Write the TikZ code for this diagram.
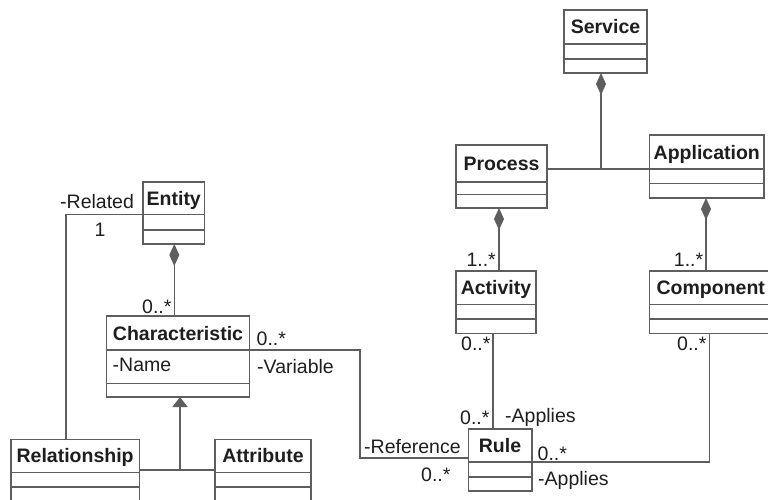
\documentclass[tikz,border=0pt]{standalone}
\usepackage{fontspec}
\setmainfont{Liberation Sans}
\usetikzlibrary{arrows.meta,calc}
\definecolor{umlline}{HTML}{5E5E5E}
\definecolor{umltext}{HTML}{1E1E1E}
\newcommand{\umlfont}{\fontsize{19.5}{23}\selectfont}
\tikzset{
  classbox/.style={draw=umlline, line width=1.6pt, inner sep=0pt, outer sep=0pt},
  divider/.style={draw=umlline, line width=1.6pt},
  edge/.style={draw=umlline, line width=1.6pt},
  classname/.style={font=\umlfont\bfseries, text=umltext, inner sep=0pt, anchor=base},
  lbl/.style={font=\umlfont, text=umltext, inner sep=0pt, anchor=base west},
  owner/.style={{Diamond[length=22pt,width=10pt]}-},
  isa/.style={-{Triangle[length=10pt,width=15pt]}},
}
% class box: name, x1, y1, x2, y2, first divider, second divider, title
\newcommand{\umlclass}[8]{%
  \node[classbox, anchor=north west,
        minimum width={(#4-#2)*1pt}, minimum height={(#5-#3)*1pt}] (#1) at (#2,#3) {};
  \draw[divider] (#2,#6) -- (#4,#6);
  \draw[divider] (#2,#7) -- (#4,#7);
  \node[classname] (#1-title) at ({(#2+#4)/2},{(#3+#6)/2+7}) {#8};
}
\begin{document}
\begin{tikzpicture}[x=1pt,y=-1pt]
  \useasboundingbox (0,0) rectangle (768,500);
  \fill[white] (0,0) rectangle (768,500);
  \clip (0,0) rectangle (768,500);

  % classes
  \umlclass{svc}{564}{10}{647}{73}{44}{59}{Service}
  \umlclass{proc}{456}{145}{547}{208}{181.7}{194.5}{Process}
  \umlclass{app}{649.5}{135}{764}{198}{169}{183.3}{Application}
  \umlclass{ent}{143}{182}{204.5}{244}{214.3}{230}{Entity}
  \umlclass{act}{456}{271}{536}{333.3}{304.3}{319}{Activity}
  \umlclass{comp}{649.5}{271}{772}{333.3}{304.3}{319}{Component}
  \umlclass{char}{106.5}{316}{249.5}{397}{350}{383.3}{Characteristic}
  \umlclass{rel}{10.7}{439.3}{139.5}{510}{472.5}{487}{Relationship}
  \umlclass{attr}{215}{439.3}{311}{510}{472.5}{487}{Attribute}
  \umlclass{rule}{468.3}{429}{531.7}{491}{462}{476.7}{Rule}
  \node[lbl] (charname) at (112.5,371) {-Name};

  % routing points
  \coordinate (jsvc) at (601,169);
  \coordinate (xent) at (174.3,0);
  \coordinate (xproc) at (499,0);
  \coordinate (xapp) at (706,0);
  \coordinate (xact) at (492.7,0);
  \coordinate (jcomp) at (709.3,462);
  \coordinate (jvar1) at (360,350);
  \coordinate (jvar2) at (360,457.7);
  \coordinate (jrel) at (65.7,214.3);
  \coordinate (jgen) at (180,470);

  % compositions
  \draw[edge] (proc.east |- jsvc) -- (app.west |- jsvc);
  \draw[edge, owner] (svc.south -| jsvc) -- (jsvc);
  \draw[edge, owner] (ent.south -| xent) -- (char.north -| xent);
  \draw[edge, owner] (proc.south -| xproc) -- (act.north -| xproc);
  \draw[edge, owner] (app.south -| xapp) -- (comp.north -| xapp);

  % associations
  \draw[edge] (act.south -| xact) -- (rule.north -| xact);
  \draw[edge] (comp.south -| jcomp) -- (jcomp) -- (rule.east |- jcomp);
  \draw[edge] (char.east |- jvar1) -- (jvar1) -- (jvar2) -- (rule.west |- jvar2);
  \draw[edge] (ent.west |- jrel) -- (jrel) -- (rel.north -| jrel);

  % generalization
  \draw[edge] (rel.east |- jgen) -- (attr.west |- jgen);
  \draw[edge, isa] (jgen) -- (char.south -| jgen);

  % role names and multiplicities
  \node[lbl] (l-related) at (60,208.3) {-Related};
  \node[lbl] (l-one) at (94.5,236.7) {1};
  \node[lbl] (l-charmult) at (142,313.3) {0..*};
  \node[lbl] (l-varmult) at (256.5,345) {0..*};
  \node[lbl] (l-var) at (257,373.3) {-Variable};
  \node[lbl] (l-actmult) at (466.3,266.7) {1..*};
  \node[lbl] (l-compmult) at (673.7,266.7) {1..*};
  \node[lbl] (l-actrule) at (461,350) {0..*};
  \node[lbl] (l-comprule) at (677,350) {0..*};
  \node[lbl] (l-rulemult1) at (460,424.3) {0..*};
  \node[lbl] (l-applies1) at (505,422.7) {-Applies};
  \node[lbl] (l-ref) at (364,453.3) {-Reference};
  \node[lbl] (l-rulemult2) at (537.5,460) {0..*};
  \node[lbl] (l-refmult) at (421,481) {0..*};
  \node[lbl] (l-applies2) at (538,485) {-Applies};
\end{tikzpicture}
\end{document}
